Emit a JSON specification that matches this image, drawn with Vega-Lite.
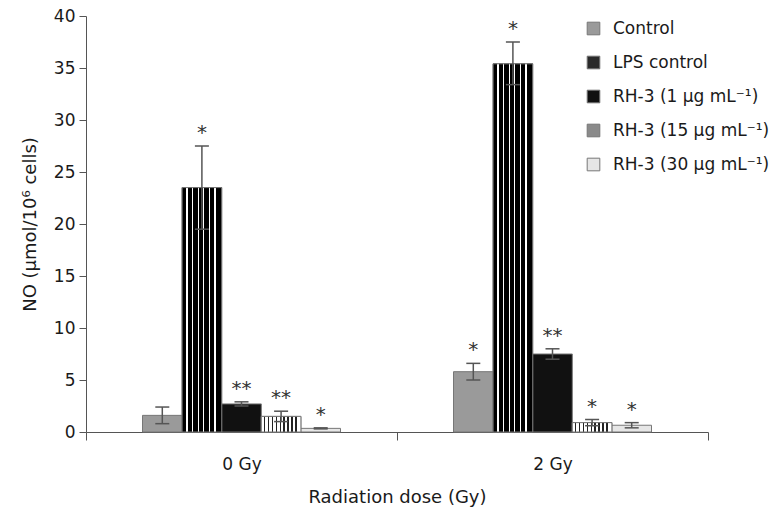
{
  "$schema": "https://vega.github.io/schema/vega-lite/v6.json",
  "width": 622,
  "height": 416,
  "autosize": "none",
  "padding": {"left": 86, "top": 16, "right": 72, "bottom": 78},
  "background": "white",
  "config": {
    "font": "DejaVu Sans",
    "view": {"stroke": null},
    "axis": {"labelFont": "DejaVu Sans", "titleFont": "DejaVu Sans", "labelFontSize": 17, "titleFontSize": 18, "labelColor": "#1a1a1a", "titleColor": "#1a1a1a", "titleFontWeight": "normal", "domainColor": "#555", "tickColor": "#555", "grid": false}
  },
  "data": {
    "values": [
      {"dose": "0 Gy", "group": "Control", "value": 1.6, "lo": 0.8, "hi": 2.4, "star": ""},
      {"dose": "0 Gy", "group": "LPS control", "value": 23.5, "lo": 19.5, "hi": 27.5, "star": "*"},
      {"dose": "0 Gy", "group": "RH-3 (1 μg mL⁻¹)", "value": 2.7, "lo": 2.5, "hi": 2.9, "star": "**"},
      {"dose": "0 Gy", "group": "RH-3 (15 μg mL⁻¹)", "value": 1.5, "lo": 1.0, "hi": 2.0, "star": "**"},
      {"dose": "0 Gy", "group": "RH-3 (30 μg mL⁻¹)", "value": 0.35, "lo": 0.3, "hi": 0.4, "star": "*"},
      {"dose": "2 Gy", "group": "Control", "value": 5.8, "lo": 5.0, "hi": 6.6, "star": "*"},
      {"dose": "2 Gy", "group": "LPS control", "value": 35.4, "lo": 33.4, "hi": 37.5, "star": "*"},
      {"dose": "2 Gy", "group": "RH-3 (1 μg mL⁻¹)", "value": 7.5, "lo": 7.0, "hi": 8.0, "star": "**"},
      {"dose": "2 Gy", "group": "RH-3 (15 μg mL⁻¹)", "value": 0.9, "lo": 0.6, "hi": 1.2, "star": "*"},
      {"dose": "2 Gy", "group": "RH-3 (30 μg mL⁻¹)", "value": 0.65, "lo": 0.4, "hi": 0.9, "star": "*"}
    ]
  },
  "encoding": {
    "x": {
      "field": "dose", "type": "nominal",
      "scale": {"paddingInner": 0, "paddingOuter": 0},
      "axis": {"title": "Radiation dose (Gy)", "labelAngle": 0, "tickBand": "extent", "tickSize": 8, "labelPadding": 16, "titlePadding": 16}
    },
    "xOffset": {
      "field": "group", "type": "nominal",
      "scale": {"domain": ["Control", "LPS control", "RH-3 (1 μg mL⁻¹)", "RH-3 (15 μg mL⁻¹)", "RH-3 (30 μg mL⁻¹)"], "paddingInner": 0, "paddingOuter": 0, "range": [56.5, 254.5]}
    },
    "y": {
      "field": "value", "type": "quantitative",
      "scale": {"domain": [0, 40], "nice": false},
      "axis": {"values": [0, 5, 10, 15, 20, 25, 30, 35, 40], "tickSize": 7, "labelPadding": 4, "title": "NO (μmol/10⁶ cells)", "titlePadding": 14}
    }
  },
  "layer": [
    {
      "mark": {"type": "bar", "stroke": "#777", "strokeWidth": 1},
      "encoding": {
        "fill": {
          "field": "group", "type": "nominal",
          "scale": {
            "domain": ["Control", "LPS control", "RH-3 (1 μg mL⁻¹)", "RH-3 (15 μg mL⁻¹)", "RH-3 (30 μg mL⁻¹)"],
            "range": ["#9a9a9a", "#2a2a2a", "#111111", "#8a8a8a", "#e6e6e6"]
          },
          "legend": {
            "title": null, "orient": "none", "legendX": 499, "legendY": 4,
            "symbolType": "square", "symbolSize": 160, "symbolStrokeColor": "#777", "symbolStrokeWidth": 1, "symbolOpacity": 1,
            "labelFont": "DejaVu Sans", "labelFontSize": 17, "labelColor": "#1a1a1a", "labelOffset": 11, "rowPadding": 16, "labelLimit": 300
          }
        }
      }
    },
    {
      "transform": [{"filter": "datum.group === 'LPS control'"}],
      "mark": {"type": "bar", "stroke": "#777", "strokeWidth": 1, "color": {"gradient": "linear", "x1": 0, "y1": 0, "x2": 1, "y2": 0, "stops": [
                {"offset": 0, "color": "#000"}, {"offset": 0.11, "color": "#000"}, {"offset": 0.11, "color": "#fff"}, {"offset": 0.145, "color": "#fff"},
                {"offset": 0.145, "color": "#000"}, {"offset": 0.25, "color": "#000"}, {"offset": 0.25, "color": "#fff"}, {"offset": 0.285, "color": "#fff"},
                {"offset": 0.285, "color": "#000"}, {"offset": 0.39, "color": "#000"}, {"offset": 0.39, "color": "#fff"}, {"offset": 0.425, "color": "#fff"},
                {"offset": 0.425, "color": "#000"}, {"offset": 0.53, "color": "#000"}, {"offset": 0.53, "color": "#fff"}, {"offset": 0.565, "color": "#fff"},
                {"offset": 0.565, "color": "#000"}, {"offset": 0.67, "color": "#000"}, {"offset": 0.67, "color": "#fff"}, {"offset": 0.705, "color": "#fff"},
                {"offset": 0.705, "color": "#000"}, {"offset": 0.81, "color": "#000"}, {"offset": 0.81, "color": "#fff"}, {"offset": 0.845, "color": "#fff"},
                {"offset": 0.845, "color": "#000"}, {"offset": 1, "color": "#000"}
              ]}}
    },
    {
      "transform": [{"filter": "datum.group === 'RH-3 (15 μg mL⁻¹)'"}],
      "mark": {"type": "bar", "stroke": "#777", "strokeWidth": 1, "color": {"gradient": "linear", "x1": 0, "y1": 0, "x2": 1, "y2": 0, "stops": [
                {"offset": 0, "color": "#fff"}, {"offset": 0.06, "color": "#fff"}, {"offset": 0.06, "color": "#222"}, {"offset": 0.1, "color": "#222"},
                {"offset": 0.1, "color": "#fff"}, {"offset": 0.16, "color": "#fff"}, {"offset": 0.16, "color": "#222"}, {"offset": 0.2, "color": "#222"},
                {"offset": 0.2, "color": "#fff"}, {"offset": 0.26, "color": "#fff"}, {"offset": 0.26, "color": "#222"}, {"offset": 0.3, "color": "#222"},
                {"offset": 0.3, "color": "#fff"}, {"offset": 0.36, "color": "#fff"}, {"offset": 0.36, "color": "#222"}, {"offset": 0.4, "color": "#222"},
                {"offset": 0.4, "color": "#fff"}, {"offset": 0.46, "color": "#fff"}, {"offset": 0.46, "color": "#222"}, {"offset": 0.5, "color": "#222"},
                {"offset": 0.5, "color": "#fff"}, {"offset": 0.56, "color": "#fff"}, {"offset": 0.56, "color": "#222"}, {"offset": 0.6, "color": "#222"},
                {"offset": 0.6, "color": "#fff"}, {"offset": 0.66, "color": "#fff"}, {"offset": 0.66, "color": "#222"}, {"offset": 0.7, "color": "#222"},
                {"offset": 0.7, "color": "#fff"}, {"offset": 0.76, "color": "#fff"}, {"offset": 0.76, "color": "#222"}, {"offset": 0.8, "color": "#222"},
                {"offset": 0.8, "color": "#fff"}, {"offset": 0.86, "color": "#fff"}, {"offset": 0.86, "color": "#222"}, {"offset": 0.9, "color": "#222"},
                {"offset": 0.9, "color": "#fff"}, {"offset": 1, "color": "#fff"}
              ]}}
    },
    {
      "mark": {"type": "rule", "color": "#555", "strokeWidth": 1.5},
      "encoding": {"y": {"field": "lo", "type": "quantitative"}, "y2": {"field": "hi"}}
    },
    {
      "mark": {"type": "tick", "color": "#555", "thickness": 1.5, "size": 14, "opacity": 1},
      "encoding": {"y": {"field": "hi", "type": "quantitative"}}
    },
    {
      "mark": {"type": "tick", "color": "#555", "thickness": 1.5, "size": 14, "opacity": 1},
      "encoding": {"y": {"field": "lo", "type": "quantitative"}}
    },
    {
      "mark": {"type": "text", "fontSize": 20, "dy": -13, "color": "#333", "font": "DejaVu Sans"},
      "encoding": {"y": {"field": "hi", "type": "quantitative"}, "text": {"field": "star"}}
    }
  ]
}
